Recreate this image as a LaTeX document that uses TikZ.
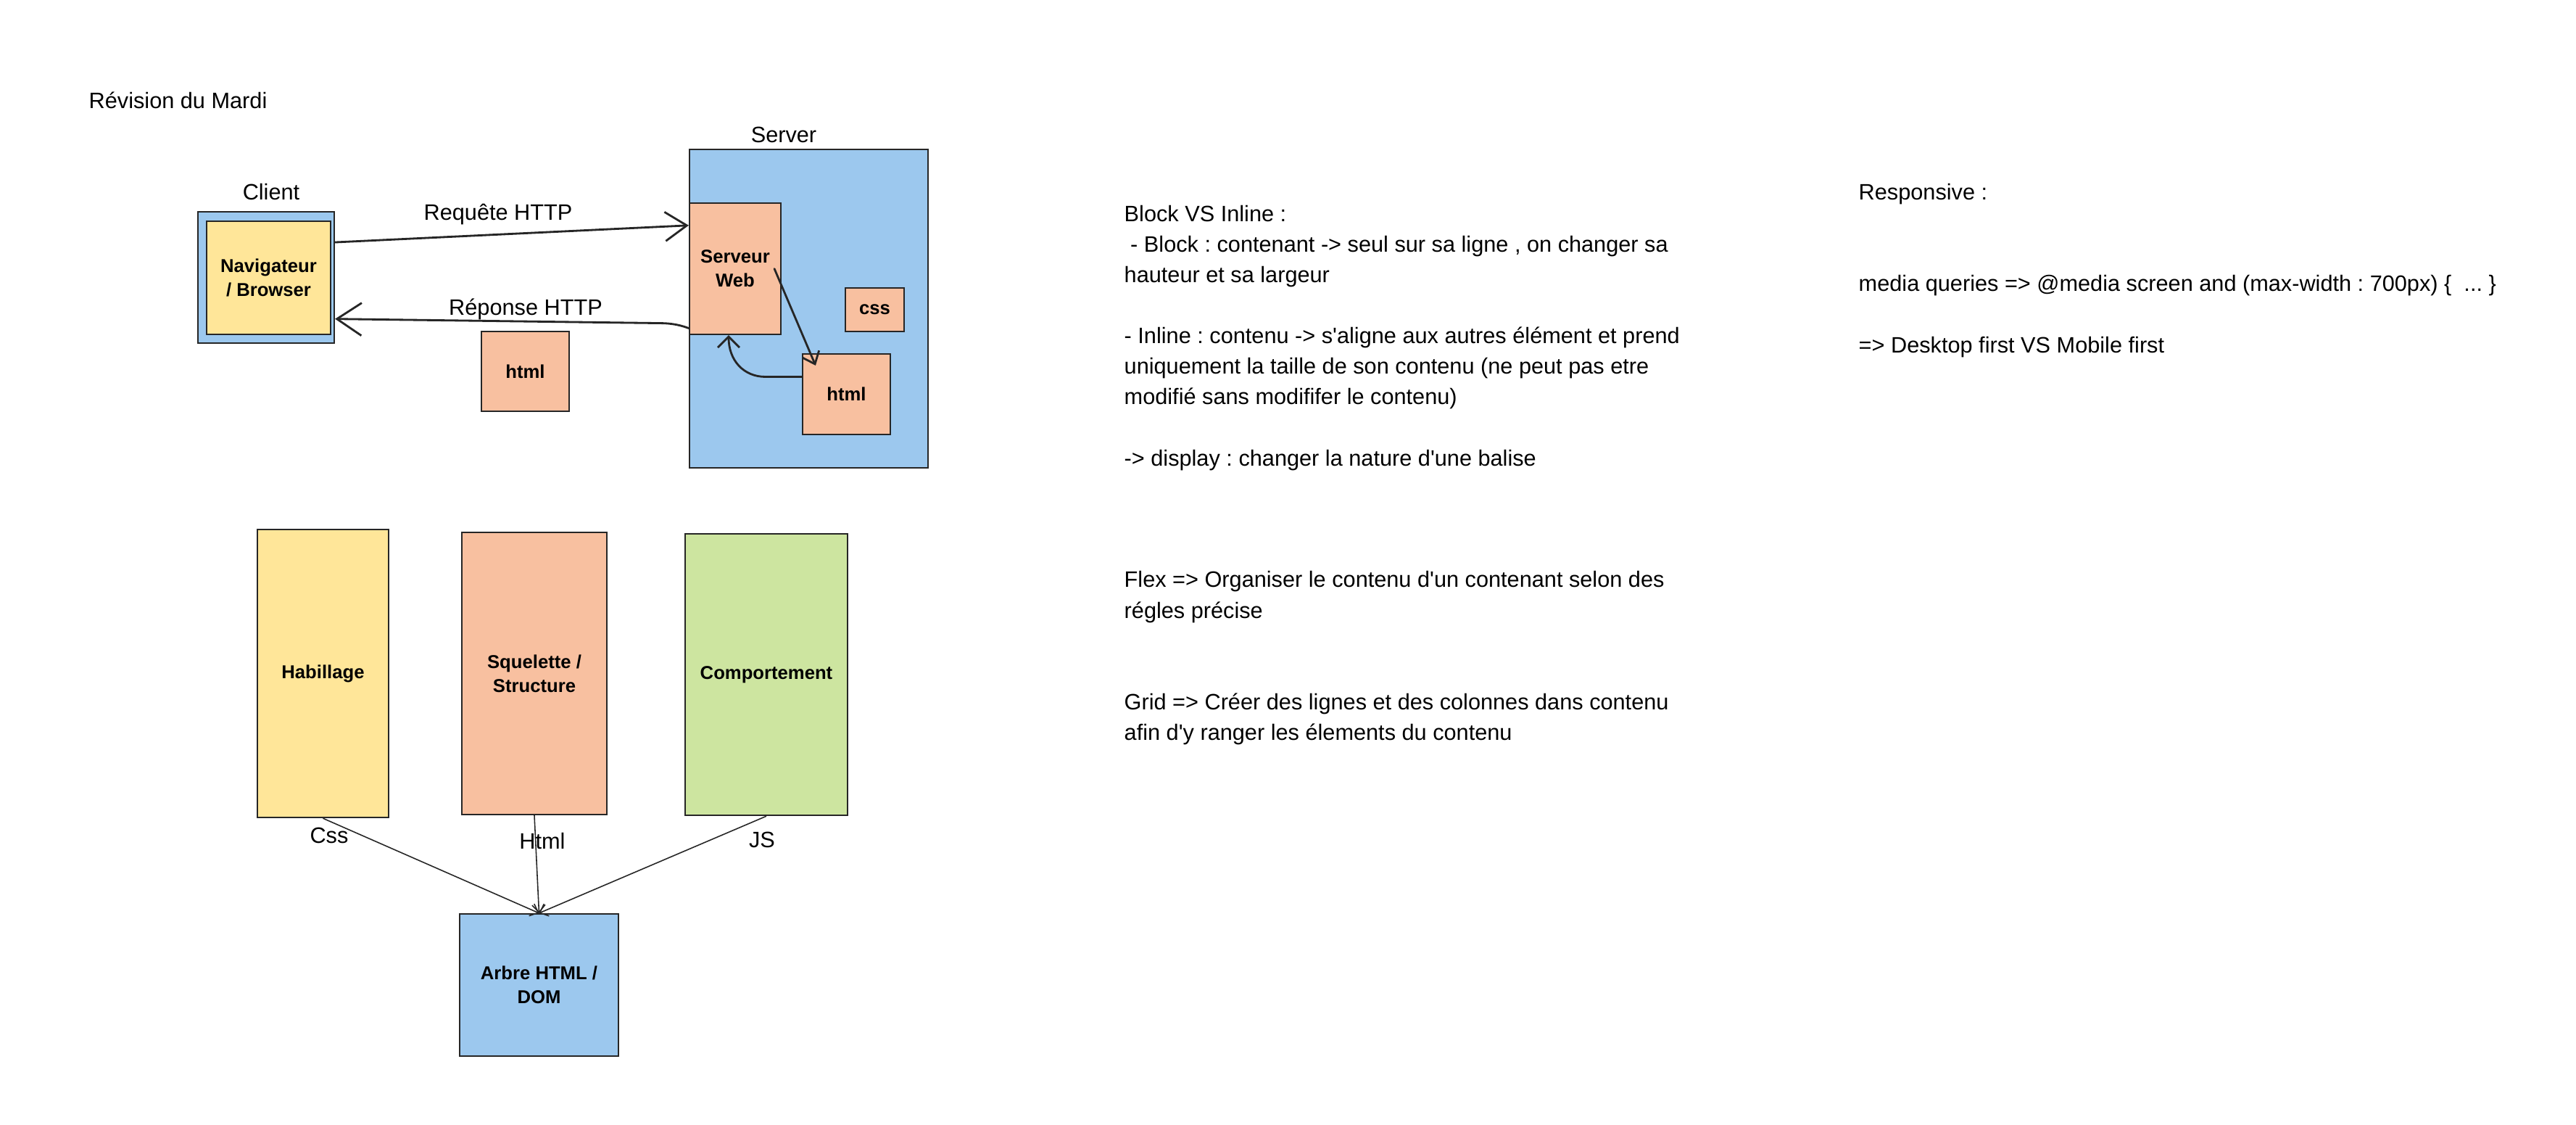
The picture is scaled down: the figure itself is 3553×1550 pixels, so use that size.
\documentclass[tikz,border=0pt]{standalone}
\usepackage{fontspec}
\setmainfont{Liberation Sans}
\usetikzlibrary{arrows.meta}
\definecolor{BLUEFILL}{HTML}{9CC8EE}
\definecolor{YELLOWFILL}{HTML}{FFE699}
\definecolor{SALMONFILL}{HTML}{F8C0A0}
\definecolor{GREENFILL}{HTML}{CDE5A0}
\definecolor{EDGE}{HTML}{262626}
\frenchspacing
\begin{document}
\begin{tikzpicture}
[
 x=0.01cm, y=-0.01cm,
 inner sep=0.5mm,
 BOX/.style={rectangle, draw=EDGE, line width=0.6pt, align=center, font=\fontsize{7.3pt}{9.4pt}\selectfont\bfseries},
 BLUEBOX/.style={BOX, fill=BLUEFILL},
 YELLOWBOX/.style={BOX, fill=YELLOWFILL},
 SALMONBOX/.style={BOX, fill=SALMONFILL},
 GREENBOX/.style={BOX, fill=GREENFILL},
 LABEL/.style={anchor=base, font=\fontsize{8.73pt}{11.95pt}\selectfont},
 NOTE/.style={anchor=base west, align=left, font=\fontsize{8.73pt}{11.95pt}\selectfont},
 HAND/.style={draw=EDGE, line width=0.8pt, line cap=round, line join=round},
 LINK/.style={draw=EDGE, line width=0.45pt, -{Straight Barb[length=1mm,width=1.8mm]}},
 ],
%
\useasboundingbox (0,0) rectangle (3553,1550);
%
\node [NOTE]  (TITLE)  at ( 117, 149)  {Révision du Mardi};
%
\node [BLUEBOX]    (CLI)   at ( 367, 382.5)  [minimum width=1.88cm, minimum height=1.81cm]  {};
\node [YELLOWBOX]  (NAV)   at ( 370.5, 383)  [minimum width=1.71cm, minimum height=1.56cm]  {Navigateur\\/ Browser};
\node [LABEL]      (LCLI)  at ( 374, 275)  {Client};
%
\node [BLUEBOX]    (SRV)   at ( 1115.5, 425.5)  [minimum width=3.29cm, minimum height=4.39cm]  {};
\node [SALMONBOX]  (WEB)   at ( 1014, 370.5)  [minimum width=1.26cm, minimum height=1.81cm]  {Serveur\\Web};
\node [SALMONBOX]  (CSS)   at ( 1206.5, 427)  [minimum width=0.81cm, minimum height=0.60cm]  {css};
\node [SALMONBOX]  (HIN)   at ( 1167.5, 543.5)  [minimum width=1.21cm, minimum height=1.11cm]  {html};
\node [LABEL]      (LSRV)  at ( 1081, 196)  {Server};
%
\node [SALMONBOX]  (HOUT)  at ( 724.5, 512)  [minimum width=1.21cm, minimum height=1.10cm]  {html};
\node [LABEL]      (LREQ)  at ( 687, 303)  {Requête HTTP};
\node [LABEL]      (LREP)  at ( 725, 434)  {Réponse HTTP};
%
\draw [HAND, -{Straight Barb[length=3mm,width=4mm]}]  (CLI.27)  -- (WEB.137) ;
\draw [HAND, -{Straight Barb[length=3.4mm,width=4.5mm]}]  (WEB.232)  .. controls +(-15,-6) and +(10,0) .. ++(-40,-7) -- (CLI.329) ;
\draw [HAND, -{Straight Barb[length=1.5mm,width=2.5mm]}]  ([xshift=-1mm]WEB.east)  -- ([xshift=1.9mm,yshift=-1.7mm]HIN.north west) ;
\draw [HAND, -{Straight Barb[length=1.5mm,width=3mm]}]  ([yshift=2.4mm]HIN.west)  -- ++(-50,0) .. controls +(-30,0) and +(0,35) .. ([xshift=-0.9mm]WEB.south) ;
%
\node [YELLOWBOX]  (HAB)   at ( 445.5, 928.5)  [minimum width=1.81cm, minimum height=3.97cm]  {Habillage};
\node [SALMONBOX]  (SQU)   at ( 737, 928.5)  [minimum width=2.00cm, minimum height=3.89cm]  {Squelette /\\Structure};
\node [GREENBOX]   (COM)   at ( 1057, 930)  [minimum width=2.24cm, minimum height=3.88cm]  {Comportement};
\node [BLUEBOX]    (DOM)   at ( 743.5, 1358)  [minimum width=2.19cm, minimum height=1.96cm]  {Arbre HTML /\\DOM};
%
\draw [LINK]  (HAB.south)  -- (DOM.north) ;
\draw [LINK]  (SQU.south)  -- (DOM.north) ;
\draw [LINK]  (COM.south)  -- (DOM.north) ;
%
\node [LABEL]  (LCSS)   at ( 454, 1162)  {Css};
\node [LABEL]  (LHTML)  at ( 748, 1170)  {Html};
\node [LABEL]  (LJS)    at ( 1051, 1168)  {JS};
%
% base of a multi-line note = baseline of its last line
\node [NOTE]  (NBLOCK)   at ( 1545, 389.7)  {Block VS Inline :\\\ - Block : contenant -> seul sur sa ligne , on changer sa\\hauteur et sa largeur};
\node [NOTE]  (NINLINE)  at ( 1545, 557.3)  {- Inline : contenu -> s\textquotesingle aligne aux autres élément et prend\\uniquement la taille de son contenu (ne peut pas etre\\modifié sans modififer le contenu)};
\node [NOTE]  (NDISP)    at ( 1545, 642)  {-> display : changer la nature d\textquotesingle une balise};
\node [NOTE]  (NFLEX)    at ( 1545, 852)  {Flex => Organiser le contenu d\textquotesingle un contenant selon des\\régles précise};
\node [NOTE]  (NGRID)    at ( 1545, 1020)  {Grid => Créer des lignes et des colonnes dans contenu\\afin d\textquotesingle y ranger les élements du contenu};
%
\node [NOTE]  (NRESP)    at ( 2558, 275.7)  {Responsive :};
\node [NOTE]  (NMEDIA)   at ( 2558, 401.7)  {media queries => @media screen and (max-width : 700px) \{ \ ... \}};
\node [NOTE]  (NDESK)    at ( 2558, 486.7)  {=> Desktop first VS Mobile first};
%
\end{tikzpicture}
\end{document}
